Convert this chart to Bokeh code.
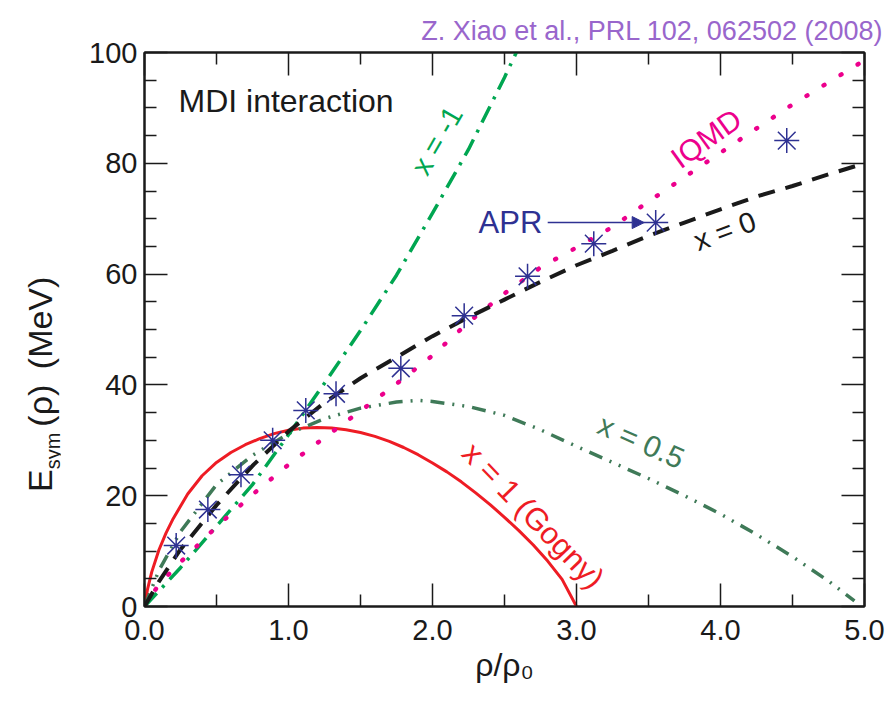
import math
from bokeh.plotting import figure
from bokeh.models import Label, LinearAxis, Range1d, FixedTicker, Arrow, NormalHead, Div
from bokeh.layouts import row
from bokeh.embed import file_html
from bokeh.resources import INLINE

# ---- data ----
rho_xm1 = [0, 0.25, 0.5, 0.75, 1.0, 1.25, 1.5, 1.75, 2.0, 2.25, 2.5, 2.6]
E_xm1 = [0, 7.0, 14.5, 22.0, 31.0, 40.3, 49.8, 59.8, 71.0, 82.5, 95.5, 101]

rho_x0 = [0, 0.1, 0.25, 0.5, 0.75, 1.0, 1.25, 1.5, 1.75, 2.0, 2.25, 2.5, 2.75, 3.0,
          3.25, 3.5, 3.75, 4.0, 4.25, 4.5, 4.75, 5.0]
E_x0 = [0, 4.5, 10.3, 18.3, 25.4, 31.6, 36.8, 41.2, 45.0, 48.8, 52.2, 55.4, 58.6, 61.6,
        64.2, 66.9, 69.3, 71.7, 74.0, 75.9, 78.0, 80.0]

rho_x05 = [0, 0.1, 0.25, 0.5, 0.75, 1.0, 1.25, 1.5, 1.75, 1.9, 2.0, 2.25, 2.5, 2.75, 3.0,
           3.25, 3.5, 3.75, 4.0, 4.25, 4.5, 4.75, 4.93]
E_x05 = [0, 6.5, 13.5, 22.0, 27.3, 31.2, 33.9, 35.8, 36.9, 37.2, 37.0, 36.1, 34.5, 31.9, 28.9,
         26.0, 23.1, 20.0, 16.7, 13.0, 9.0, 4.6, 1.0]

rho_x1 = [0, 0.02, 0.05, 0.1, 0.15, 0.2, 0.3, 0.4, 0.5, 0.6, 0.7, 0.8, 0.9, 1.0, 1.1, 1.2,
          1.3, 1.4, 1.5, 1.6, 1.7, 1.8, 1.9, 2.0, 2.1, 2.2, 2.3, 2.4, 2.5, 2.6, 2.7, 2.8,
          2.9, 3.0]
E_x1 = [0, 3.0, 6.2, 10.2, 13.3, 15.9, 20.3, 23.6, 26.0, 27.8, 29.2, 30.3, 31.2, 31.8, 32.2,
        32.3, 32.2, 31.9, 31.4, 30.7, 29.8, 28.7, 27.4, 25.9, 24.3, 22.5, 20.5, 18.4, 16.1,
        13.7, 11.1, 8.2, 4.9, 0]

rho_iqmd = [0, 0.1, 0.25, 0.5, 0.75, 1.0, 1.25, 1.5, 1.75, 2.0, 2.25, 2.5, 2.75, 3.0,
            3.25, 3.5, 3.75, 4.0, 4.25, 4.5, 4.75, 5.0]
E_iqmd = [0, 4.0, 8.0, 14.4, 20.2, 25.6, 30.5, 35.3, 40.2, 45.3, 51.3, 56.5, 61.2, 64.8,
          68.5, 73.1, 77.5, 81.9, 86.3, 90.6, 94.6, 98.6]

rho_apr = [0.22, 0.44, 0.67, 0.89, 1.12, 1.33, 1.78, 2.22, 2.66, 3.12, 3.55, 4.46]
E_apr = [11.0, 17.5, 23.8, 30.0, 35.4, 38.4, 43.0, 52.5, 59.6, 65.5, 69.3, 84.1]

x_ticks = [0, 1, 2, 3, 4, 5]
x_tick_labels = ["0.0", "1.0", "2.0", "3.0", "4.0", "5.0"]
x_minor = [0.5, 1.5, 2.5, 3.5, 4.5]
y_ticks = [0, 20, 40, 60, 80, 100]
y_minor = [5, 10, 15, 25, 30, 35, 45, 50, 55, 65, 70, 75, 85, 90, 95]

TITLE = "Z. Xiao et al., PRL 102, 062502 (2008)"

FONT = "Liberation Sans"
W, H = 890, 717
YLAB_W = 60

p = figure(width=W - YLAB_W, height=H, output_backend="svg", toolbar_location=None,
           x_range=Range1d(0, 5), y_range=Range1d(0, 100),
           min_border_left=144 - YLAB_W, min_border_right=26, min_border_top=52,
           min_border_bottom=111, background_fill_color="white", border_fill_color="white")
p.grid.visible = False
p.outline_line_color = "#1a1a1a"
p.outline_line_width = 2

p.title.text = TITLE
p.title.align = "right"
p.title.text_color = "#9966cc"
p.title.text_font = FONT
p.title.text_font_size = "27px"
p.title.text_font_style = "normal"
p.title.offset = -19
p.title.standoff = 6


def style_axis(ax, labels=True):
    ax.axis_line_color = "#1a1a1a"
    ax.axis_line_width = 2
    ax.major_tick_in = 23
    ax.major_tick_out = 0
    ax.minor_tick_in = 12
    ax.minor_tick_out = 0
    ax.major_tick_line_color = "#1a1a1a"
    ax.minor_tick_line_color = "#1a1a1a"
    ax.major_tick_line_width = 1.5
    ax.minor_tick_line_width = 1.5
    ax.major_label_text_font = FONT
    ax.major_label_text_font_size = "29px"
    ax.major_label_text_color = "#1a1a1a"
    if not labels:
        ax.major_label_overrides = {t: " " for t in ax.ticker.ticks}
        ax.major_label_text_font_size = "1px"
        ax.major_label_standoff = 0


xb = p.xaxis[0]
xb.ticker = FixedTicker(ticks=x_ticks, minor_ticks=x_minor)
xb.major_label_overrides = {t: l for t, l in zip(x_ticks, x_tick_labels)}
style_axis(xb)
xb.major_label_standoff = 13
xb.axis_label = "\u03c1/\u03c1\u2080"
xb.axis_label_text_font = FONT
xb.axis_label_text_font_size = "32px"
xb.axis_label_text_font_style = "normal"
xb.axis_label_text_color = "#1a1a1a"
xb.axis_label_standoff = 4

yl = p.yaxis[0]
yl.ticker = FixedTicker(ticks=y_ticks, minor_ticks=y_minor)
style_axis(yl)
yl.major_label_standoff = 7

xt = LinearAxis(ticker=FixedTicker(ticks=x_ticks, minor_ticks=x_minor))
style_axis(xt, labels=False)
p.add_layout(xt, "above")
yr = LinearAxis(ticker=FixedTicker(ticks=y_ticks, minor_ticks=y_minor))
style_axis(yr, labels=False)
p.add_layout(yr, "right")

# curves
p.line(rho_x1, E_x1, line_color="#ee1c24", line_width=3)
p.line(rho_x05, E_x05, line_color="#3f7a58", line_width=3.5, line_dash="14 8 2 8 2 8")
p.line(rho_xm1, E_xm1, line_color="#00a651", line_width=3.5, line_dash="18 8 3 8")
p.line(rho_iqmd, E_iqmd, line_color="#ec008c", line_width=4.5, line_dash="1 19", line_cap="round")
p.line(rho_x0, E_x0, line_color="#1a1a1a", line_width=4, line_dash="17 11")
p.scatter(rho_apr, E_apr, marker="asterisk", size=25, line_color="#2e3192", line_width=1.5)

p.add_layout(Arrow(end=NormalHead(size=12, fill_color="#2e3192", line_color="#2e3192"),
                   line_color="#2e3192", line_width=1.5,
                   x_start=2.80, y_start=69.3, x_end=3.47, y_end=69.3))


def lab(x, y, text, color="#1a1a1a", size="28px", angle=0.0, align="center",
        baseline="middle", font=FONT):
    p.add_layout(Label(x=x, y=y, text=text, text_color=color, text_font_size=size,
                       angle=math.radians(angle), text_align=align, text_baseline=baseline,
                       text_font=font))


lab(0.236, 91.2, "MDI interaction", size="32px", align="left")
lab(2.32, 69.3, "APR", color="#2e3192", size="31px", align="left")
lab(3.90, 84.5, "IQMD", color="#ec008c", size="30px", angle=35.8)
lab(2.03, 84.1, "x = -1", color="#00a651", size="29px", angle=60)
lab(4.03, 67.8, "x = 0", color="#1a1a1a", size="29px", angle=20)
lab(3.45, 29.8, "x = 0.5", color="#3f7a58", size="30px", angle=-24)
lab(2.70, 16.4, "x = 1 (Gogny)", color="#ee1c24", size="31px", angle=-46)

# y-axis label with a real subscript, drawn as HTML text beside the figure
ylab_html = (
    '<div style="position:relative;width:%dpx;height:%dpx;">'
    '<div style="position:absolute;left:23px;top:492px;transform:rotate(-90deg);'
    'transform-origin:0 0;white-space:nowrap;font-family:\'Liberation Sans\';'
    'font-size:34px;line-height:34px;color:#1a1a1a;">'
    'E<span style="font-size:20px;position:relative;top:8px;margin-right:6px;">sym</span>'
    '(\u03c1)<span style="margin-left:6px;"></span> (MeV)'
    '</div></div>' % (YLAB_W, H))
ydiv = Div(text=ylab_html, width=YLAB_W, height=H, margin=(0, 0, 0, 0))

layout = row(ydiv, p, spacing=0)
open("out.html", "w").write(file_html(layout, INLINE))
